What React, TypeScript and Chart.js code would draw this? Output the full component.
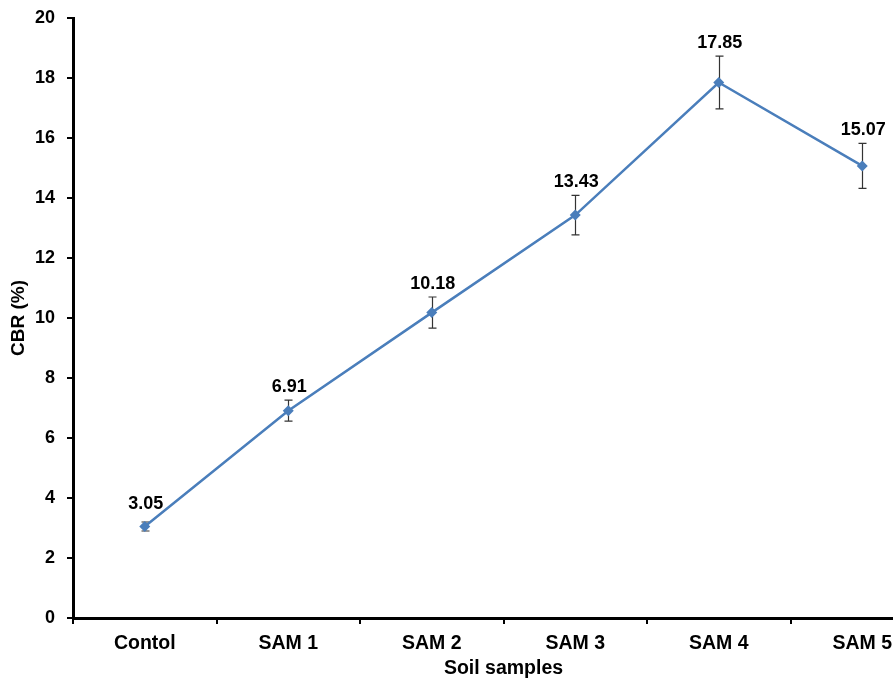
import React, { useEffect, useRef } from "react";
import { Chart, registerables } from "chart.js";

Chart.register(...registerables);

const categories = ["Contol", "SAM 1", "SAM 2", "SAM 3", "SAM 4", "SAM 5"];
const cbrValues = [3.05, 6.91, 10.18, 13.43, 17.85, 15.07];
const cbrErrors = [0.15, 0.35, 0.52, 0.66, 0.88, 0.75];
const yMin = 0;
const yMax = 20;
const yStep = 2;

const FONT = "'Liberation Sans', Arial, sans-serif";
const LINE_COLOR = "#4A7EBB";

const errorBarPlugin = {
  id: "errorBars",
  beforeDatasetsDraw(chart: any) {
    const { ctx, scales } = chart;
    const meta = chart.getDatasetMeta(0);
    ctx.save();
    ctx.strokeStyle = "#333";
    ctx.lineWidth = 1.2;
    meta.data.forEach((pt: any, i: number) => {
      const x = Math.round(pt.x) + 0.5;
      const top = scales.y.getPixelForValue(cbrValues[i] + cbrErrors[i]);
      const bot = scales.y.getPixelForValue(cbrValues[i] - cbrErrors[i]);
      ctx.beginPath();
      ctx.moveTo(x, top);
      ctx.lineTo(x, bot);
      ctx.moveTo(x - 4, top);
      ctx.lineTo(x + 4, top);
      ctx.moveTo(x - 4, bot);
      ctx.lineTo(x + 4, bot);
      ctx.stroke();
    });
    ctx.restore();
  },
};

const valueLabelPlugin = {
  id: "valueLabels",
  afterDatasetsDraw(chart: any) {
    const { ctx, scales } = chart;
    const meta = chart.getDatasetMeta(0);
    ctx.save();
    ctx.font = `bold 18px ${FONT}`;
    ctx.fillStyle = "#000";
    ctx.textAlign = "center";
    ctx.textBaseline = "middle";
    meta.data.forEach((pt: any, i: number) => {
      const top = scales.y.getPixelForValue(cbrValues[i] + cbrErrors[i]);
      const y = Math.min(pt.y - 22, top - 13);
      ctx.fillText(cbrValues[i].toFixed(2), pt.x + 1, y);
    });
    ctx.restore();
  },
};

export default function App() {
  const canvasRef = useRef<HTMLCanvasElement | null>(null);

  useEffect(() => {
    if (!canvasRef.current) return;
    const chart = new Chart(canvasRef.current, {
      type: "line",
      data: {
        labels: categories,
        datasets: [
          {
            data: cbrValues,
            borderColor: LINE_COLOR,
            backgroundColor: LINE_COLOR,
            borderWidth: 2.5,
            pointStyle: "rectRot",
            pointRadius: 5.5,
            pointBorderWidth: 0,
            pointBackgroundColor: LINE_COLOR,
            tension: 0,
          },
        ],
      },
      options: {
        responsive: false,
        animation: false,
        devicePixelRatio: 1,
        layout: { padding: { left: 0, right: 11, top: 18, bottom: 0 } },
        plugins: {
          legend: { display: false },
          tooltip: { enabled: false },
        },
        scales: {
          x: {
            type: "category",
            offset: true,
            border: { display: true, color: "#000", width: 3 },
            grid: {
              offset: true,
              drawOnChartArea: false,
              drawTicks: true,
              tickLength: 6,
              color: "#000",
              lineWidth: 2,
            },
            ticks: {
              color: "#000",
              font: { family: FONT, size: 19.5, weight: "bold" },
              padding: 8,
              maxRotation: 0,
            },
            title: {
              display: true,
              text: "Soil samples",
              color: "#000",
              font: { family: FONT, size: 19.5, weight: "bold" },
              padding: { top: 0, bottom: 0 },
            },
            afterFit(scale: any) {
              scale.height = 62;
              scale.paddingLeft = 0;
              scale.paddingRight = 0;
            },
          },
          y: {
            min: yMin,
            max: yMax,
            border: { display: true, color: "#000", width: 3 },
            grid: {
              drawOnChartArea: false,
              drawTicks: true,
              tickLength: 6,
              color: "#000",
              lineWidth: 2,
            },
            ticks: {
              stepSize: yStep,
              color: "#000",
              font: { family: FONT, size: 18, weight: "bold" },
              padding: 12,
            },
            title: {
              display: true,
              text: "CBR (%)",
              color: "#000",
              font: { family: FONT, size: 19, weight: "bold" },
              padding: { top: 7, bottom: 0 },
            },
            afterFit(scale: any) {
              scale.width = 73;
              scale.paddingTop = 0;
              scale.paddingBottom = 0;
            },
          },
        },
      },
      plugins: [errorBarPlugin, valueLabelPlugin],
    });
    return () => chart.destroy();
  }, []);

  return (
    <div
      style={{
        position: "fixed",
        left: 0,
        top: 0,
        width: 893,
        height: 680,
        overflow: "hidden",
        background: "#fff",
      }}
    >
      <canvas ref={canvasRef} width={945} height={680} style={{ display: "block" }} />
    </div>
  );
}
